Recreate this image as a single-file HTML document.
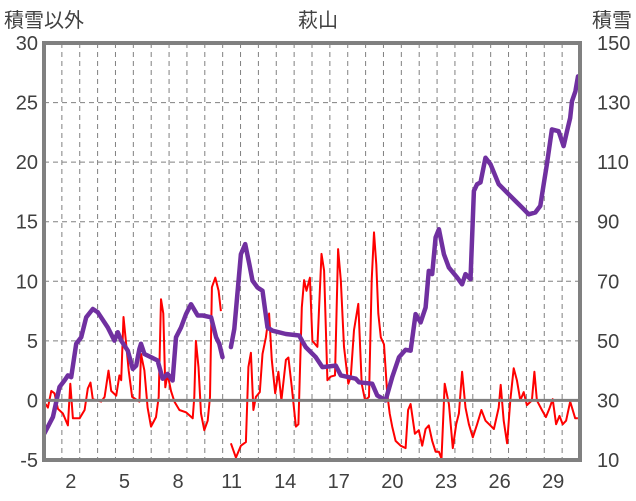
<!DOCTYPE html>
<html><head><meta charset="utf-8"><style>
html,body{margin:0;padding:0;background:#fff;width:636px;height:501px;overflow:hidden}
svg text{font-family:"Liberation Sans","Noto Sans CJK JP",sans-serif;fill:#404040;font-size:20px}
</style></head><body>
<svg id="chart" width="636" height="501" viewBox="0 0 636 501" xmlns="http://www.w3.org/2000/svg">
<text x="4" y="27">積雪以外</text>
<text x="318" y="27" text-anchor="middle">萩山</text>
<text x="632" y="27" text-anchor="end">積雪</text>
<g id="grid"></g>
<g id="series"></g>
<g id="axes"></g>
</svg>
<script>
const leftTicks=[30,25,20,15,10,5,0,-5];
const rightTicks=[150,130,110,90,70,50,30,10];
const dayLabels=[2,5,8,11,14,17,20,23,26,29];
const snowT=[0.03,0.5,0.87,1.15,1.34,1.52,1.8,2.08,2.36,2.73,3.01,3.57,3.94,4.13,4.32,4.69,4.97,5.16,5.34,5.43,5.62,5.99,6.36,6.64,6.92,7.2,7.39,7.67,7.95,8.23,8.6,8.88,9.35,9.63,9.81,9.99,10.2,10.46,10.65,11.02,11.26,11.49,11.67,11.95,12.23,12.51,12.79,13.54,14.28,14.65,15.21,15.58,16.33,16.61,17.45,17.63,18.37,18.65,19.12,19.49,19.87,20.24,20.52,20.8,21.08,21.36,21.54,21.73,21.92,22.1,22.38,22.66,23.12,23.4,23.59,23.87,24.06,24.24,24.43,24.71,24.99,25.45,26.01,26.38,26.75,27.13,27.5,27.78,27.97,28.15,28.43,28.8,29.08,29.27,29.45,29.55,29.74,29.89];
const snowV=[19,24.4,34.5,36.7,38.4,37.8,49,51.2,57.9,60.7,59.6,54.5,50.1,52.9,50.1,46.7,40.6,41.7,47.3,49,45.6,44.5,43.4,37.3,38.9,36.7,51.2,54.5,59,62.3,58.5,58.5,57.9,51.2,49,44.5,null,47.9,54,79.1,82.5,75.8,70.2,67.9,66.8,54.5,53.4,52.3,51.8,47.9,44.5,41.2,41.7,38.4,37.3,36.1,35.6,31.7,30,37.8,44.5,47,46.7,59,56.2,61.2,73.5,72.4,84.7,87.5,79.1,74.6,71.3,69,72.4,70.7,100.3,102.6,103.2,111.5,109.3,102.6,99.2,97,94.8,92.5,93.1,95.3,102.6,109.3,121,120.4,115.4,120.4,124.9,130.5,133.8,138.8];
const otherT=[0.09,0.22,0.41,0.59,0.78,1.06,1.34,1.47,1.62,1.99,2.27,2.45,2.6,2.73,3.2,3.39,3.61,3.76,4.04,4.22,4.32,4.45,4.56,4.74,4.93,5.34,5.43,5.62,5.8,5.99,6.27,6.42,6.55,6.68,6.79,6.92,7.11,7.3,7.58,7.95,8.32,8.41,8.5,8.65,8.79,8.97,9.16,9.29,9.4,9.59,9.77,9.9,10.2,10.46,10.74,11.02,11.3,11.44,11.58,11.72,11.86,12.08,12.23,12.42,12.6,12.75,12.94,13.12,13.29,13.54,13.68,13.87,14.1,14.24,14.43,14.56,14.69,14.88,15.02,15.3,15.4,15.53,15.68,15.86,16.05,16.29,16.46,16.61,16.79,17.03,17.17,17.35,17.59,17.78,17.97,18.19,18.34,18.47,18.6,18.71,18.85,19.03,19.21,19.35,19.49,19.68,19.96,20.24,20.38,20.52,20.76,20.98,21.17,21.36,21.54,21.73,21.92,22.1,22.25,22.43,22.66,22.88,23.07,23.22,23.4,23.59,23.78,24.0,24.24,24.48,24.71,25.18,25.45,25.56,25.73,25.92,26.1,26.29,26.47,26.66,26.85,27.03,27.31,27.45,27.59,27.87,28.09,28.28,28.47,28.66,28.85,29.03,29.22,29.45,29.73,29.88];
const otherV=[-0.3,-0.6,0.8,0.6,-0.7,-1.1,-2.1,1.4,-1.5,-1.5,-0.8,1.0,1.5,0.1,-0.1,0.3,2.5,0.8,0.4,2.1,1.7,7.0,5.3,2.5,0.3,-0.1,3.9,2.5,-0.6,-2.2,-1.4,0.3,8.5,7.3,1.1,2.2,0.8,-0.1,-0.8,-1.0,-1.5,0.3,5.0,2.8,-1.1,-2.5,-1.7,0.3,9.5,10.3,9.2,7.5,null,-3.6,-4.8,-3.8,-3.5,2.8,4.0,-0.8,0.3,0.7,3.9,5.3,7.3,3.4,0.6,2.4,0,3.4,3.6,1.1,-2.2,-2.0,7.8,10.1,9.2,10.3,5.0,4.5,7.8,12.3,10.9,1.7,2.0,2.1,12.7,10.1,4.5,1.4,2.0,5.9,8.1,1.4,0,0.3,10.1,14.1,11.4,7.3,5.3,4.7,0.6,-1.1,-2.2,-3.4,-3.8,-4.0,-0.8,-0.3,-2.8,-2.5,-3.8,-2.4,-2.1,-3.4,-4.3,-4.3,-4.9,1.4,-0.3,-4.0,-2.0,-1.1,2.4,-0.6,-2.0,-3.1,-2.0,-0.8,-1.7,-2.4,-0.6,1.3,-1.7,-3.6,0,2.7,1.7,0,0.7,-0.4,0,2.4,0,-0.8,-1.4,-0.7,0.1,-2.0,-1.3,-2.0,-1.7,-0.1,-1.5,-1.5];

const X0=44,X1=580,Y0=43,Y1=460;
const x=t=>X0+t*(X1-X0)/30;
const yL=v=>Y1-(v+5)*(Y1-Y0)/35;
const yR=s=>Y1-(s-10)*(Y1-Y0)/140;
const NS="http://www.w3.org/2000/svg";
function mk(tag,attrs,parent,txt){const e=document.createElementNS(NS,tag);for(const k in attrs)e.setAttribute(k,attrs[k]);if(txt!==undefined)e.textContent=txt;parent.appendChild(e);return e;}
const grid=document.getElementById('grid'),ser=document.getElementById('series'),axes=document.getElementById('axes');
for(let d=1;d<30;d++){const l=mk('line',{x1:x(d),x2:x(d),y1:Y0,y2:Y1,stroke:'#808080','stroke-width':1,'stroke-dasharray':'5,4'},grid);

}
leftTicks.forEach(v=>{if(v>-5&&v<30&&v!==0){const l=mk('line',{x1:X0,x2:X1,y1:yL(v),y2:yL(v),stroke:'#808080','stroke-width':1,'stroke-dasharray':'5,4'},grid);

}});
function path(T,V,fy){let d='',pen=false;T.forEach((t,i)=>{const v=V[i];if(v===null){pen=false;return;}d+=(pen?'L':'M')+x(t).toFixed(1)+','+fy(v).toFixed(1);pen=true;});return d;}
const zl=mk('line',{x1:X0,x2:X1,y1:yL(0),y2:yL(0),stroke:'#808080','stroke-width':3},axes);


const r=mk('path',{d:path(otherT,otherV,yL),fill:'none',stroke:'#ff0000','stroke-width':2,'stroke-linejoin':'round'},ser);


const p=mk('path',{d:path(snowT,snowV,yR),fill:'none',stroke:'#7030a0','stroke-width':4.5,'stroke-linejoin':'round','stroke-linecap':'round'},ser);


const fr=mk('rect',{x:X0,y:Y0,width:X1-X0,height:Y1-Y0,fill:'none',stroke:'#808080','stroke-width':4},axes);


leftTicks.forEach(v=>{const t=mk('text',{x:38,y:yL(v)+7,'text-anchor':'end'},axes,String(v));

});
rightTicks.forEach(v=>{const t=mk('text',{x:597,y:yR(v)+7},axes,String(v));

});
dayLabels.forEach(d=>{const t=mk('text',{x:x(d-0.5),y:488,'text-anchor':'middle'},axes,String(d));

});
</script>
</body></html>
